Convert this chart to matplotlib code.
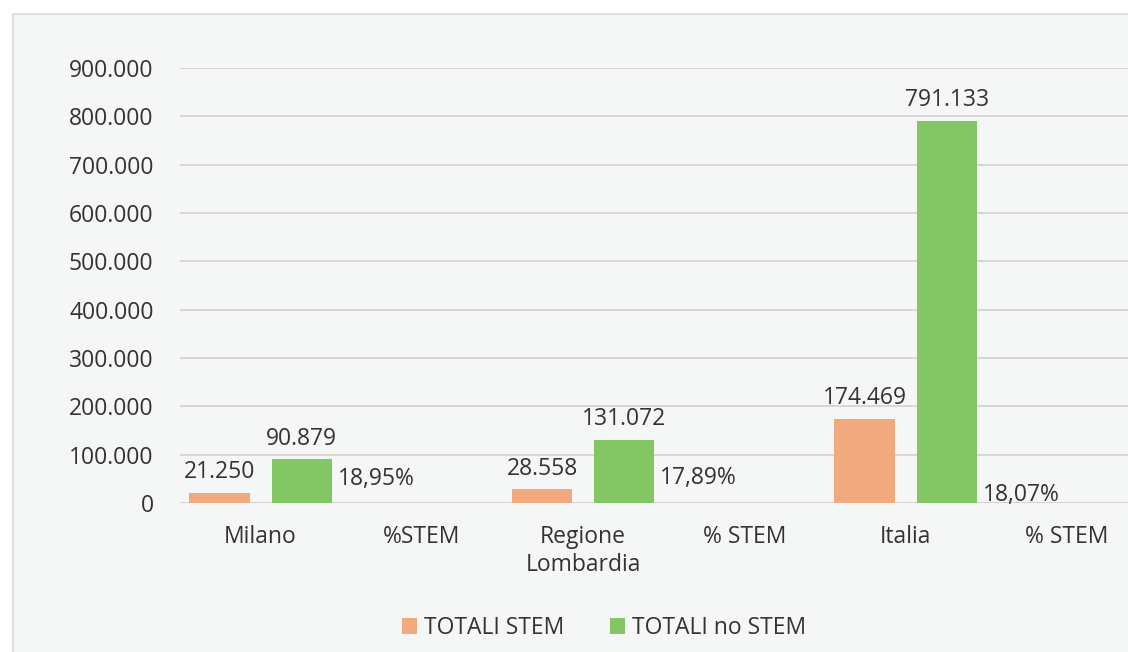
import matplotlib.pyplot as plt
from matplotlib.patches import Rectangle
from matplotlib.ticker import FuncFormatter

categories = ['Milano', '%STEM', 'Regione\nLombardia', '% STEM', 'Italia', '% STEM']
totali_stem = [21250, None, 28558, None, 174469, None]
totali_no_stem = [90879, None, 131072, None, 791133, None]
pct_stem = ['18,95%', '17,89%', '18,07%']

orange = '#F2A97D'
green = '#84C663'
text_col = '#333333'
fs = 16.5
plt.rcParams['font.family'] = ['Open Sans', 'DejaVu Sans']

fig = plt.figure(figsize=(11.28, 6.52), dpi=100)
fig.patches.append(Rectangle((13 / 1128, -0.1), 1.2, 1 - 14 / 652 + 0.1,
                             transform=fig.transFigure, facecolor='#F5F6F6',
                             edgecolor='#D9D9D9', linewidth=1.2, zorder=-10))

ax = fig.add_axes([180 / 1128, 149 / 652, 967.5 / 1128, 435 / 652])
ax.set_facecolor('none')

w = 0.375
off = 0.255
xs = range(len(categories))
xo = [x - off for x, v in zip(xs, totali_stem) if v is not None]
vo = [v for v in totali_stem if v is not None]
xg = [x + off for x, v in zip(xs, totali_no_stem) if v is not None]
vg = [v for v in totali_no_stem if v is not None]

b1 = ax.bar(xo, vo, width=w, color=orange, label='TOTALI STEM', zorder=3)
b2 = ax.bar(xg, vg, width=w, color=green, label='TOTALI no STEM', zorder=3)

fmt = lambda v: f'{v:,.0f}'.replace(',', '.')
for bars in (b1, b2):
    for r in bars:
        ax.annotate(fmt(r.get_height()), (r.get_x() + r.get_width() / 2, r.get_height()),
                    xytext=(0, 6), textcoords='offset points', ha='center', va='bottom',
                    fontsize=fs, color=text_col)

# percent labels sit just right of the green bars
pct_dy = [17, 18, 6]
for r, lab, dy in zip(b2, pct_stem, pct_dy):
    ax.annotate(lab, (r.get_x() + r.get_width(), 0), xytext=(4, dy),
                textcoords='offset points', ha='left', va='center',
                fontsize=fs, color=text_col)

ax.set_xlim(-0.5, len(categories) - 0.5)
ax.set_ylim(0, 900000)
ax.set_yticks(range(0, 900001, 100000))
ax.yaxis.set_major_formatter(FuncFormatter(lambda v, p: fmt(v)))
ax.set_xticks(list(xs))
ax.set_xticklabels(categories, linespacing=1.2)
ax.tick_params(axis='both', length=0, labelsize=fs, labelcolor=text_col)
ax.tick_params(axis='y', pad=19)
ax.tick_params(axis='x', pad=16)
ax.grid(axis='y', color='#D4D4D4', linewidth=1.3, zorder=0)
for s in ax.spines.values():
    s.set_visible(False)
ax.axhline(0, color='#D4D4D4', linewidth=1.3, zorder=1)

fig.legend(handles=[b1, b2], loc='center', bbox_to_anchor=(604 / 1128, 1 - 628 / 652),
           ncol=2, frameon=False, fontsize=fs, handlelength=0.65, handleheight=0.65,
           handletextpad=0.3, columnspacing=2.0, labelcolor=text_col)

fig.savefig('out.png', dpi=100)
